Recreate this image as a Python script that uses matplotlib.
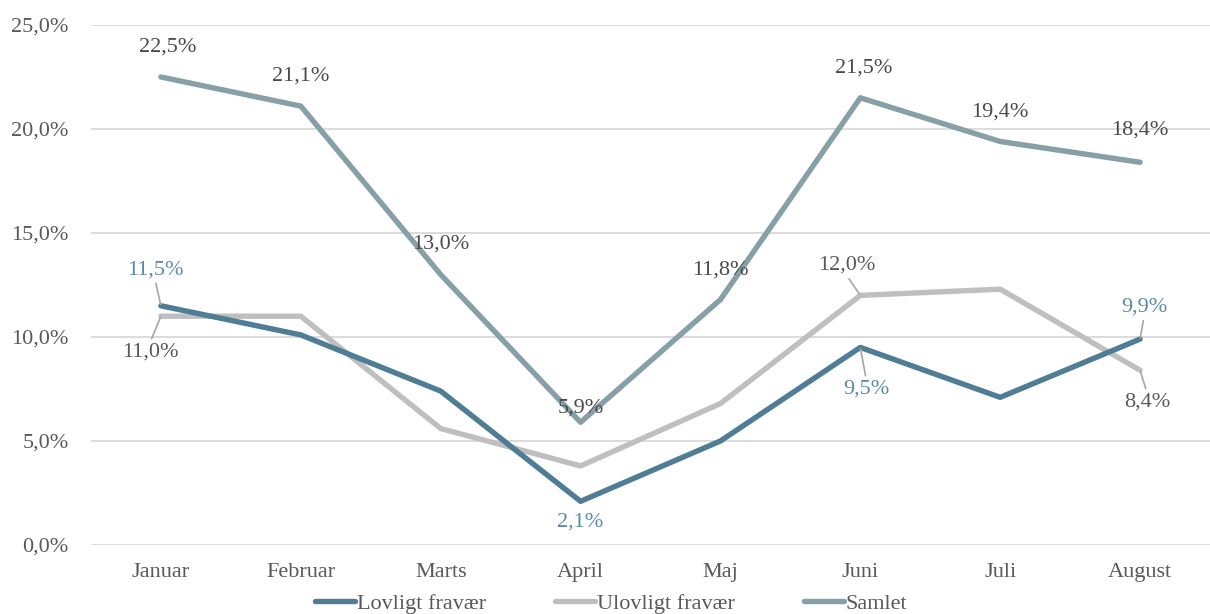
import matplotlib
matplotlib.use("Agg")
import matplotlib.pyplot as plt
from matplotlib.ticker import FuncFormatter

months = ["Januar", "Februar", "Marts", "April", "Maj", "Juni", "Juli", "August"]
lovligt = [11.5, 10.1, 7.4, 2.1, 5.0, 9.5, 7.1, 9.9]
ulovligt = [11.0, 11.0, 5.6, 3.8, 6.8, 12.0, 12.3, 8.4]
samlet = [22.5, 21.1, 13.0, 5.9, 11.8, 21.5, 19.4, 18.4]
yticks = [0, 5, 10, 15, 20, 25]

plt.rcParams['font.family'] = ['Liberation Serif', 'DejaVu Serif']

fig = plt.figure(figsize=(12.10, 6.14), dpi=100)
ax = fig.add_axes([91/1210, 69/614, (1210-91)/1210, (545-25)/614])

c_lov = '#4f7d96'
c_ulo = '#bfbfbf'
c_sam = '#87a0a8'
lw = 3.9
FS = 16

x = list(range(len(months)))
ax.plot(x, lovligt, color=c_lov, lw=lw, solid_capstyle='round', solid_joinstyle='round', label='Lovligt fravær', zorder=3)
ax.plot(x, ulovligt, color=c_ulo, lw=lw, solid_capstyle='round', solid_joinstyle='round', label='Ulovligt fravær', zorder=2)
ax.plot(x, samlet, color=c_sam, lw=lw, solid_capstyle='round', solid_joinstyle='round', label='Samlet', zorder=4)

ax.set_xlim(-0.5, len(months) - 0.5)
ax.set_ylim(0, 25)
ax.set_yticks(yticks)
ax.yaxis.set_major_formatter(FuncFormatter(lambda v, p: f"{v:.1f}%".replace('.', ',')))
ax.set_xticks(x)
ax.set_xticklabels(months)
ax.grid(axis='y', color='#d9d9d9', lw=1.3)
ax.set_axisbelow(True)
for s in ax.spines.values():
    s.set_visible(False)
ax.tick_params(axis='both', length=0, labelsize=FS, labelcolor='#595959')
ax.tick_params(axis='y', pad=16)
ax.tick_params(axis='x', pad=13)

def fmt(v):
    return f"{v:.1f}%".replace('.', ',')

lead = dict(arrowstyle='-', color='#a6a6a6', lw=1.2, shrinkA=1, shrinkB=1)

sam_off = [(7, 30), (0, 30), (0, 31), (0, 14), (0, 30), (3, 30), (0, 29), (0, 32)]
for i, (dx, dy) in enumerate(sam_off):
    ax.annotate(fmt(samlet[i]), (i, samlet[i]), xytext=(dx, dy), textcoords='offset pixels',
                ha='center', va='center', fontsize=FS, color='#4a4a4a', zorder=6)

lov_lab = {0: (-6, 36, True), 3: (0, -21, False), 5: (6, -42, True), 7: (4, 32, True)}
for i, (dx, dy, ld) in lov_lab.items():
    kw = {}
    if ld:
        kw['arrowprops'] = dict(lead, relpos=(0.5, 0.0) if dy > 0 else (0.5, 1.0))
    ax.annotate(fmt(lovligt[i]), (i, lovligt[i]), xytext=(dx, dy), textcoords='offset pixels',
                ha='center', va='center', fontsize=FS, color='#5b8aa6', zorder=6, **kw)

ulo_lab = {0: (-11, -36, True), 5: (-14, 30, True), 7: (7, -32, True)}
for i, (dx, dy, ld) in ulo_lab.items():
    kw = {}
    if ld:
        kw['arrowprops'] = dict(lead, relpos=(0.5, 0.0) if dy > 0 else (0.5, 1.0))
    ax.annotate(fmt(ulovligt[i]), (i, ulovligt[i]), xytext=(dx, dy), textcoords='offset pixels',
                ha='center', va='center', fontsize=FS, color='#595959', zorder=6, **kw)

leg = fig.legend(loc='lower center', bbox_to_anchor=(0.505, -0.032), ncol=3, frameon=False,
                 fontsize=FS, handlelength=1.8, handletextpad=0.1, columnspacing=3.1,
                 labelcolor='#595959')
for h in leg.get_lines():
    h.set_solid_capstyle('round')

fig.savefig('out.png', dpi=100)
